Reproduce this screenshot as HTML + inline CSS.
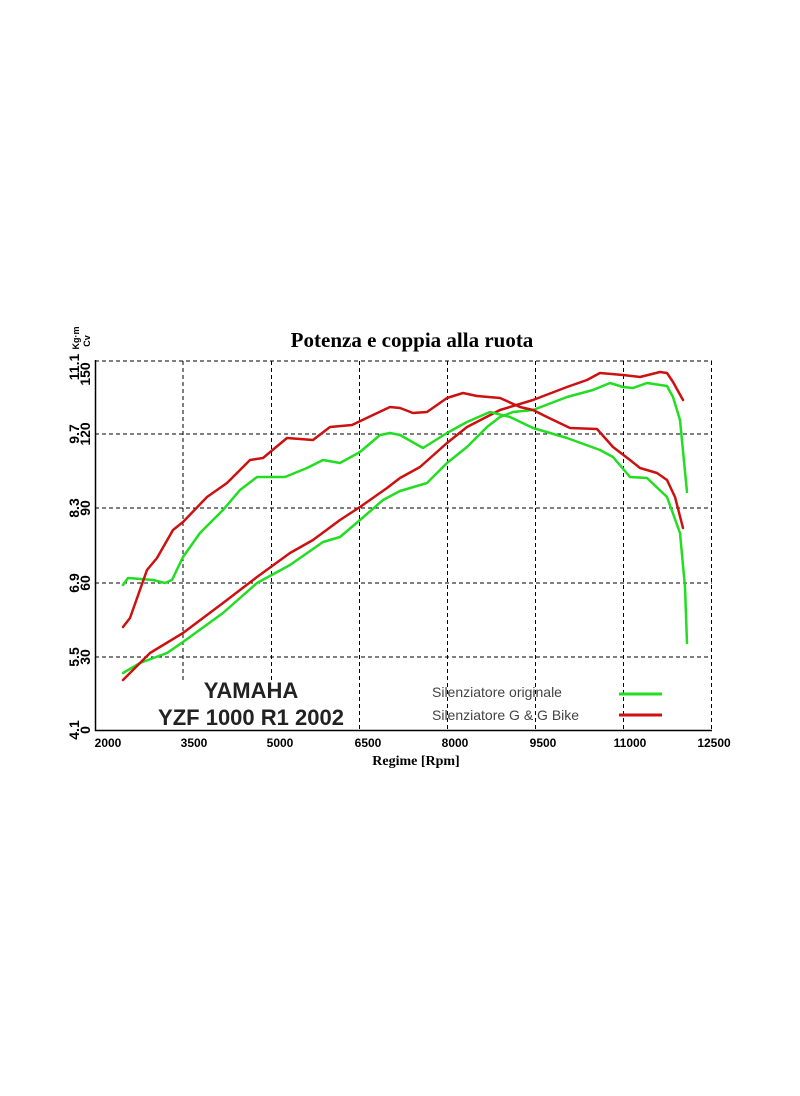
<!DOCTYPE html>
<html><head><meta charset="utf-8"><style>body{margin:0;background:#fff}svg{display:block}</style></head><body>
<svg width="800" height="1096" viewBox="0 0 800 1096" xmlns="http://www.w3.org/2000/svg">
<rect width="800" height="1096" fill="#fff"/>
<text x="412" y="347" font-family="Liberation Serif" font-weight="bold" font-size="21" text-anchor="middle">Potenza e coppia alla ruota</text>
<g stroke="#000" stroke-width="1" stroke-dasharray="4,3" fill="none">
<line x1="95" y1="361" x2="712" y2="361"/><line x1="95" y1="434" x2="712" y2="434"/><line x1="95" y1="508" x2="712" y2="508"/><line x1="95" y1="583" x2="712" y2="583"/><line x1="95" y1="657" x2="712" y2="657"/>
<line x1="183" y1="361" x2="183" y2="680"/><line x1="271.5" y1="361" x2="271.5" y2="680"/><line x1="359.5" y1="361" x2="359.5" y2="730"/><line x1="447.5" y1="361" x2="447.5" y2="730"/><line x1="535.5" y1="361" x2="535.5" y2="730"/><line x1="623.5" y1="361" x2="623.5" y2="730"/><line x1="711.5" y1="361" x2="711.5" y2="730"/>
</g>
<path d="M95.5 360 V730.5 H712" stroke="#000" stroke-width="1.5" fill="none"/>
<g font-family="Liberation Sans" font-weight="bold" font-size="12" text-anchor="middle">
<text x="108" y="747">2000</text><text x="194" y="747">3500</text><text x="280" y="747">5000</text><text x="368" y="747">6500</text><text x="455" y="747">8000</text><text x="543" y="747">9500</text><text x="630" y="747">11000</text><text x="714" y="747">12500</text>
</g>
<text x="416" y="765" font-family="Liberation Serif" font-weight="bold" font-size="14" text-anchor="middle">Regime [Rpm]</text>
<g font-family="Liberation Sans" font-size="14" font-weight="bold">
<text transform="translate(90,730) rotate(-90)" text-anchor="middle">0</text>
<text transform="translate(90,657) rotate(-90)" text-anchor="middle">30</text>
<text transform="translate(90,583) rotate(-90)" text-anchor="middle">60</text>
<text transform="translate(90,508) rotate(-90)" text-anchor="middle">90</text>
<text transform="translate(90,434) rotate(-90)" text-anchor="middle">120</text>
<text transform="translate(90,374) rotate(-90)" text-anchor="middle">150</text>
<text transform="translate(79,730) rotate(-90)" text-anchor="middle">4.1</text>
<text transform="translate(79,657) rotate(-90)" text-anchor="middle">5.5</text>
<text transform="translate(79,583) rotate(-90)" text-anchor="middle">6.9</text>
<text transform="translate(79,508) rotate(-90)" text-anchor="middle">8.3</text>
<text transform="translate(79,434) rotate(-90)" text-anchor="middle">9.7</text>
<text transform="translate(79,367) rotate(-90)" text-anchor="middle">11.1</text>
<text transform="translate(90,341) rotate(-90)" text-anchor="middle" font-size="9">Cv</text>
<text transform="translate(79,338) rotate(-90)" text-anchor="middle" font-size="9">Kg·m</text>
</g>
<g fill="none" stroke-width="2.5" stroke-linejoin="round" stroke-linecap="round">
<path stroke="#22dd22" d="M123 673 L140 663 167 653 183 642 223 613 257 583 290 565 323 542 340 537 360 520 383 500 400 491 427 483 447 463 467 447 487 427 500 417 513 412 533 410 567 397 593 390 610 383 623 387 633 388 647 383 667 386 673 397 680 420 687 492"/>
<path stroke="#cc1111" d="M123 680 L150 653 183 633 223 603 257 577 290 553 313 540 340 520 360 507 387 488 400 478 420 467 447 443 467 427 500 410 533 400 567 387 587 380 600 373 623 375 640 377 660 372 667 373 673 382 683 400"/>
<path stroke="#22dd22" d="M123 585 L128 578 153 580 165 583 172 580 183 557 200 533 223 510 240 490 257 477 285 477 307 468 323 460 340 463 360 452 380 435 390 433 400 435 423 448 447 433 467 422 490 412 510 417 533 428 567 438 600 450 613 457 630 477 647 478 667 497 680 533 685 587 687 643"/>
<path stroke="#cc1111" d="M123 627 L130 618 147 570 157 558 173 530 183 522 207 497 227 483 250 460 263 458 287 438 313 440 330 427 352 425 373 415 390 407 400 408 413 413 427 412 447 398 463 393 477 396 500 398 520 407 533 410 547 417 570 428 597 429 613 447 630 460 640 468 657 473 667 480 675 497 683 528"/>
</g>
<g font-family="Liberation Sans" font-weight="bold" font-size="22" fill="#222" text-anchor="middle">
<text x="251" y="698">YAMAHA</text><text x="251" y="725">YZF 1000 R1 2002</text>
</g>
<g font-family="Liberation Sans" font-size="14" fill="#444">
<text x="432" y="697">Silenziatore originale</text><text x="432" y="720">Silenziatore G &amp; G Bike</text>
</g>
<line x1="619" y1="694" x2="662" y2="694" stroke="#22dd22" stroke-width="3"/>
<line x1="619" y1="715" x2="662" y2="715" stroke="#cc1111" stroke-width="3"/>
</svg>
</body></html>
